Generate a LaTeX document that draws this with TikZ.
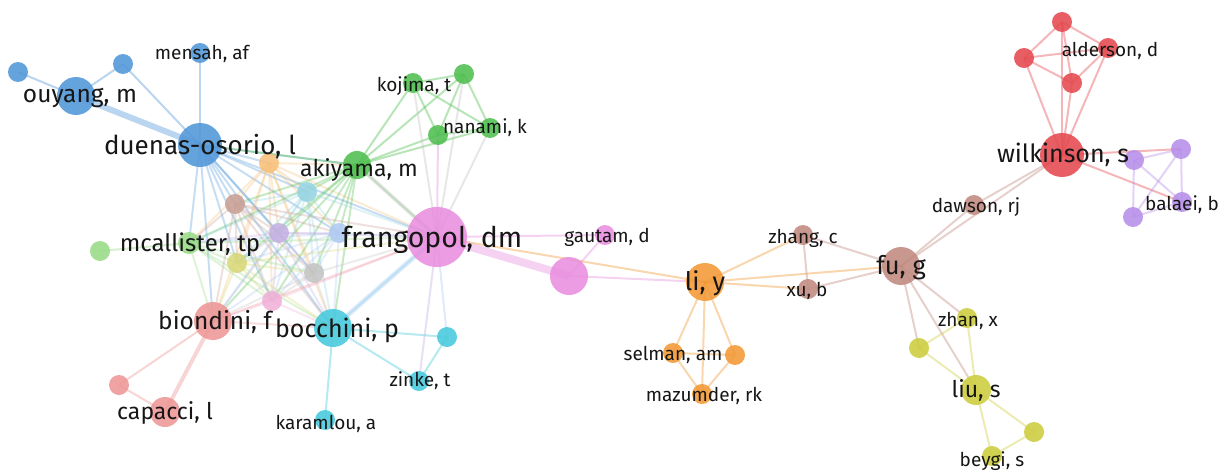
\documentclass[tikz,border=0pt]{standalone}
\usepackage{fontspec}
\setmainfont{Fira Sans}
\usepackage{tikz}
\usetikzlibrary{backgrounds}
\definecolor{vBlue}{RGB}{80,150,216}
\definecolor{vGreen}{RGB}{78,190,78}
\definecolor{vRed}{RGB}{228,72,78}
\definecolor{vPurple}{RGB}{182,142,232}
\definecolor{vOrange}{RGB}{242,152,52}
\definecolor{vBrown}{RGB}{192,138,128}
\definecolor{vPink}{RGB}{232,142,222}
\definecolor{vYellow}{RGB}{204,204,62}
\definecolor{vCyan}{RGB}{70,202,220}
\definecolor{lOrange}{RGB}{246,192,122}
\definecolor{lCyan}{RGB}{150,212,226}
\definecolor{lBrown}{RGB}{200,160,150}
\definecolor{lLav}{RGB}{196,176,226}
\definecolor{lBlue}{RGB}{176,202,242}
\definecolor{lGreen}{RGB}{152,218,134}
\definecolor{lYellow}{RGB}{216,216,122}
\definecolor{lGray}{RGB}{196,196,196}
\definecolor{lPink}{RGB}{240,176,216}
\definecolor{lRed}{RGB}{238,150,150}
\definecolor{txt}{RGB}{22,22,22}
\tikzset{bub/.style = {circle, inner sep = 0, minimum size = #1, fill opacity = 0.88}}
\tikzset{link/.style = {line width = 2, draw opacity = 0.4}}
\tikzset{lbl/.style = {text = txt, inner sep = 0, font = \fontsize{#1}{#1}\selectfont}}
\tikzset{lbls/.style = {lbl = 19}}
\tikzset{lblm/.style = {lbl = 23}}
\tikzset{lbll/.style = {lbl = 24.5}}

\begin{document}
\begin{tikzpicture}[x=1pt, y=-1pt]
    \useasboundingbox (0, 0) rectangle (1222, 471);

    % blue
    \node [bub=20, fill=vBlue] (bA) at (18, 72) {};
    \node [bub=38, fill=vBlue] (ouyang) at (76, 96) {};
    \node [bub=20, fill=vBlue] (bB) at (123, 64) {};
    \node [bub=20, fill=vBlue] (mensah) at (200, 53) {};
    \node [bub=44, fill=vBlue] (duenas) at (200, 145) {};
    % green
    \node [bub=28, fill=vGreen] (akiyama) at (357, 165) {};
    \node [bub=20, fill=vGreen] (kojima) at (413, 83) {};
    \node [bub=20, fill=vGreen] (gA) at (464, 74) {};
    \node [bub=20, fill=vGreen] (gB) at (438, 135) {};
    \node [bub=20, fill=vGreen] (nanami) at (490, 128) {};
    % centre
    \node [bub=20, fill=lOrange] (oA) at (269, 163) {};
    \node [bub=20, fill=lCyan] (cA) at (307, 192) {};
    \node [bub=20, fill=lBrown] (brA) at (235, 204) {};
    \node [bub=20, fill=lLav] (lvA) at (279, 233) {};
    \node [bub=20, fill=lBlue] (lbA) at (339, 233) {};
    \node [bub=22, fill=lGreen] (mcallister) at (189, 243) {};
    \node [bub=20, fill=lGreen] (lgA) at (100, 251) {};
    \node [bub=20, fill=lYellow] (ylA) at (237, 263) {};
    \node [bub=20, fill=lGray] (gyA) at (314, 273) {};
    \node [bub=20, fill=lPink] (pkA) at (272, 301) {};
    \node [bub=38, fill=lRed] (biondini) at (213, 321) {};
    \node [bub=38, fill=vCyan] (bocchini) at (333, 328) {};
    \node [bub=20, fill=vCyan] (cyA) at (447, 337) {};
    \node [bub=20, fill=vCyan] (zinke) at (419, 381) {};
    \node [bub=20, fill=vCyan] (karamlou) at (325, 420) {};
    \node [bub=20, fill=lRed] (rdA) at (119, 385) {};
    \node [bub=30, fill=lRed] (capacci) at (165, 412) {};
    % pink
    \node [bub=60, fill=vPink] (frangopol) at (437, 237) {};
    \node [bub=38, fill=vPink] (pkB) at (569, 276) {};
    \node [bub=20, fill=vPink] (gautam) at (605, 235) {};
    % orange
    \node [bub=38, fill=vOrange] (li) at (705, 282) {};
    \node [bub=20, fill=vOrange] (selman) at (673, 353) {};
    \node [bub=20, fill=vOrange] (orA) at (735, 355) {};
    \node [bub=20, fill=vOrange] (mazumder) at (702, 394) {};
    % brown
    \node [bub=20, fill=vBrown] (zhang) at (803, 235) {};
    \node [bub=20, fill=vBrown] (xu) at (808, 289) {};
    \node [bub=38, fill=vBrown] (fu) at (901, 266) {};
    \node [bub=20, fill=vBrown] (dawson) at (974, 205) {};
    % red
    \node [bub=44, fill=vRed] (wilkinson) at (1062, 155) {};
    \node [bub=20, fill=vRed] (rA) at (1062, 22) {};
    \node [bub=20, fill=vRed] (rB) at (1024, 58) {};
    \node [bub=20, fill=vRed] (alderson) at (1108, 48) {};
    \node [bub=20, fill=vRed] (rC) at (1072, 83) {};
    % purple
    \node [bub=20, fill=vPurple] (vA) at (1134, 160) {};
    \node [bub=20, fill=vPurple] (vB) at (1181, 149) {};
    \node [bub=20, fill=vPurple] (balaei) at (1182, 202) {};
    \node [bub=20, fill=vPurple] (vC) at (1133, 217) {};
    % yellow
    \node [bub=20, fill=vYellow] (zhan) at (967, 318) {};
    \node [bub=20, fill=vYellow] (yA) at (919, 348) {};
    \node [bub=30, fill=vYellow] (liu) at (976, 390) {};
    \node [bub=20, fill=vYellow] (yB) at (1034, 432) {};
    \node [bub=20, fill=vYellow] (beygi) at (992, 456) {};

    \begin{pgfonlayer}{background}
      % dense core
      \foreach \a/\ca [count=\i] in {duenas/vBlue, oA/lOrange, akiyama/vGreen, cA/lCyan,
          brA/lBrown, lvA/lLav, lbA/lBlue, mcallister/lGreen, ylA/lYellow, gyA/lGray,
          pkA/lPink, biondini/lRed, bocchini/vCyan, frangopol/vPink}
        \foreach \b [count=\j] in {duenas, oA, akiyama, cA, brA, lvA, lbA, mcallister,
            ylA, gyA, pkA, biondini, bocchini, frangopol}
          {\ifnum\j>\i \draw [link, draw=\ca, draw opacity=0.32] (\a.center) -- (\b.center); \fi}

      \foreach \a/\b/\c in {bA/ouyang/vBlue, ouyang/bB/vBlue, bB/duenas/vBlue,
          mensah/duenas/vBlue, duenas/akiyama/vGreen,
          akiyama/kojima/vGreen, akiyama/gA/vGreen, akiyama/gB/vGreen, akiyama/nanami/vGreen,
          kojima/gA/vGreen, kojima/gB/vGreen, kojima/nanami/vGreen, gA/gB/vGreen,
          gA/nanami/vGreen, gB/nanami/vGreen,
          frangopol/kojima/lGray, frangopol/gA/lGray, frangopol/gB/vPink, frangopol/nanami/lGray,
          mcallister/lgA/lGreen, biondini/rdA/lRed, rdA/capacci/lRed,
          bocchini/cyA/vCyan, bocchini/zinke/vCyan, bocchini/karamlou/vCyan, cyA/zinke/vCyan,
          frangopol/zinke/lLav, frangopol/cyA/lBlue,
          frangopol/gautam/vPink, pkB/gautam/vPink, pkB/li/vPink, frangopol/li/vOrange,
          li/selman/vOrange, li/orA/vOrange, li/mazumder/vOrange, selman/orA/vOrange,
          selman/mazumder/vOrange, orA/mazumder/vOrange,
          li/zhang/vOrange, li/xu/vOrange, li/fu/vOrange, zhang/xu/vBrown,
          zhang/fu/vBrown, xu/fu/vBrown,
          fu/dawson/vBrown, dawson/wilkinson/vBrown, fu/wilkinson/vBrown,
          wilkinson/rA/vRed, wilkinson/rB/vRed, wilkinson/alderson/vRed, wilkinson/rC/vRed,
          rA/rB/vRed, rA/alderson/vRed, rA/rC/vRed, rB/alderson/vRed, rB/rC/vRed, alderson/rC/vRed,
          wilkinson/vB/vRed, wilkinson/balaei/vRed,
          vA/vB/vPurple, vA/balaei/vPurple, vA/vC/vPurple, vB/balaei/vPurple,
          vB/vC/vPurple, balaei/vC/vPurple,
          fu/zhan/vBrown, fu/yA/vBrown, fu/liu/vBrown, zhan/yA/vYellow, zhan/liu/vYellow,
          yA/liu/vYellow, liu/yB/vYellow, liu/beygi/vYellow, yB/beygi/vYellow}
        \draw [link, draw=\c] (\a.center) -- (\b.center);

      % strong ties
      \draw [link, draw=vBlue, line width=6] (ouyang.center) -- (duenas.center);
      \draw [link, draw=vPink, line width=8] (frangopol.center) -- (pkB.center);
      \draw [link, draw=lRed, line width=4] (biondini.center) -- (capacci.center);
      \draw [link, draw=lBlue, line width=5] (frangopol.center) -- (bocchini.center);
      \draw [link, draw=lGray, line width=4] (akiyama.center) -- (frangopol.center);
    \end{pgfonlayer}

    % labels
    \node [lbl=24.5] (ouyang-t) at (80, 98) {ouyang, m};
    \node [lbls] (mensah-t) at (202, 54) {mensah, af};
    \node [lbl=26] (duenas-t) at (200, 147) {duenas-osorio, l};
    \node [lbls] (kojima-t) at (414, 86) {kojima, t};
    \node [lbls] (nanami-t) at (485, 128) {nanami, k};
    \node [lblm] (akiyama-t) at (359, 170) {akiyama, m};
    \node [lbl=24] (mcallister-t) at (190, 245) {mcallister, tp};
    \node [lbl=28.5] (frangopol-t) at (432, 240) {frangopol, dm};
    \node [lbll] (biondini-t) at (215, 322) {biondini, f};
    \node [lbl=25] (bocchini-t) at (337, 330) {bocchini, p};
    \node [lbls] (zinke-t) at (420, 381) {zinke, t};
    \node [lbls] (karamlou-t) at (326, 424) {karamlou, a};
    \node [lbl=23] (capacci-t) at (165, 413) {capacci, l};
    \node [lbls] (gautam-t) at (607, 237) {gautam, d};
    \node [lbl=25.5] (li-t) at (705, 283) {li, y};
    \node [lbls] (selman-t) at (673, 355) {selman, am};
    \node [lbls] (mazumder-t) at (704, 396) {mazumder, rk};
    \node [lbls] (zhang-t) at (803, 238) {zhang, c};
    \node [lbls] (xu-t) at (807, 291) {xu, b};
    \node [lbl=25.5] (fu-t) at (901, 268) {fu, g};
    \node [lbls] (dawson-t) at (976, 207) {dawson, rj};
    \node [lbl=25] (wilkinson-t) at (1063, 155) {wilkinson, s};
    \node [lbls] (alderson-t) at (1110, 51) {alderson, d};
    \node [lbls] (balaei-t) at (1182, 205) {balaei, b};
    \node [lbls] (zhan-t) at (968, 321) {zhan, x};
    \node [lbl=23] (liu-t) at (976, 390) {liu, s};
    \node [lbls] (beygi-t) at (992, 461) {beygi, s};
  \end{tikzpicture}
\end{document}
